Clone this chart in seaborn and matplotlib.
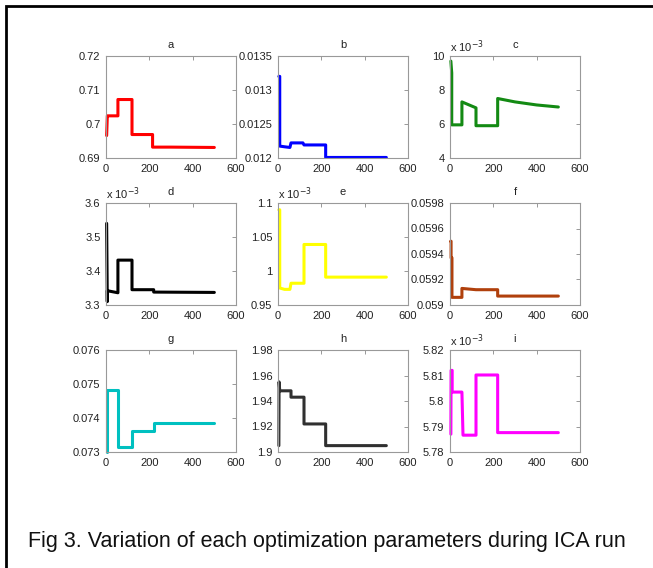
import numpy as np
import pandas as pd
import seaborn as sns
import matplotlib
matplotlib.use("Agg")
import matplotlib.pyplot as plt
from matplotlib.ticker import FuncFormatter
from matplotlib.patches import Rectangle

# step-like traces of each parameter over ICA iterations (vertices)
a_x = [3, 6, 6, 55, 55, 120, 120, 215, 215, 300, 500]
a_y = [0.6966, 0.7022, 0.7024, 0.7024, 0.7072, 0.7072, 0.6969, 0.6969, 0.6932, 0.6932, 0.6931]

b_x = [4, 8, 8, 30, 55, 60, 115, 120, 220, 220, 500]
b_y = [0.01320, 0.01320, 0.012175, 0.012165, 0.012155, 0.012222, 0.012222, 0.012192, 0.012192, 0.012008, 0.012008]

c_x = [4, 8, 8, 55, 55, 120, 120, 220, 220, 300, 400, 500]
c_y = [9.7, 9.0, 5.95, 5.95, 7.3, 6.95, 5.9, 5.9, 7.5, 7.3, 7.12, 7.0]

d_x = [3, 6, 6, 55, 55, 120, 120, 220, 220, 500]
d_y = [3.540, 3.310, 3.342, 3.336, 3.432, 3.432, 3.345, 3.345, 3.338, 3.337]

e_x = [4, 8, 8, 30, 55, 60, 120, 120, 220, 220, 500]
e_y = [1.090, 1.090, 0.975, 0.973, 0.973, 0.982, 0.982, 1.039, 1.039, 0.991, 0.991]

f_x = [3, 5, 5, 9, 9, 55, 55, 120, 220, 220, 500]
f_y = [0.05950, 0.05950, 0.05937, 0.05937, 0.05906, 0.05906, 0.05913, 0.05912, 0.05912, 0.05907, 0.05907]

g_x = [4, 6, 6, 55, 55, 120, 120, 220, 220, 500]
g_y = [0.0730, 0.0730, 0.07483, 0.07483, 0.07315, 0.07315, 0.07362, 0.07362, 0.07385, 0.07385]

h_x = [4, 5, 8, 60, 60, 120, 120, 220, 220, 500]
h_y = [1.905, 1.955, 1.948, 1.948, 1.943, 1.943, 1.922, 1.922, 1.905, 1.905]

i_x = [4, 5, 10, 10, 55, 60, 120, 120, 220, 220, 500]
i_y = [5.787, 5.812, 5.812, 5.8035, 5.8035, 5.7866, 5.7866, 5.8102, 5.8102, 5.7876, 5.7876]

titles = ["a", "b", "c", "d", "e", "f", "g", "h", "i"]
xs = [a_x, b_x, c_x, d_x, e_x, f_x, g_x, h_x, i_x]
ys = [a_y, b_y, c_y, d_y, e_y, f_y, g_y, h_y, i_y]
colors = ["#ff0000", "#0000ff", "#138a13", "#000000", "#ffff00",
          "#b0400c", "#00c0c0", "#303030", "#ff00ff"]
yticks = [
    [0.69, 0.70, 0.71, 0.72],
    [0.012, 0.0125, 0.013, 0.0135],
    [4, 6, 8, 10],
    [3.3, 3.4, 3.5, 3.6],
    [0.95, 1.0, 1.05, 1.1],
    [0.0590, 0.0592, 0.0594, 0.0596, 0.0598],
    [0.073, 0.074, 0.075, 0.076],
    [1.90, 1.92, 1.94, 1.96, 1.98],
    [5.78, 5.79, 5.80, 5.81, 5.82],
]
xticks = [0, 200, 400, 600]
scaled = ["c", "d", "e", "i"]  # panels with "x 10^-3" multiplier

sns.set_style("white")
plt.rcParams["font.family"] = ["Liberation Sans", "DejaVu Sans"]

fig = plt.figure(figsize=(6.53, 5.68), dpi=100)

lefts = [106, 278, 450]
tops = [56, 203, 350]
W, H = 653.0, 568.0
aw, ah = 130, 102

fmt = FuncFormatter(lambda v, p: "%g" % round(v, 6))

for k, name in enumerate(titles):
    r, c = divmod(k, 3)
    ax = fig.add_axes([lefts[c] / W, 1 - (tops[r] + ah) / H, aw / W, ah / H])
    df = pd.DataFrame({"iter": xs[k], "val": ys[k]})
    sns.lineplot(data=df, x="iter", y="val", ax=ax, color=colors[k],
                 linewidth=2.2, estimator=None, sort=False)
    for ln in ax.lines:
        ln.set_clip_on(False)
    ax.set_xlim(0, 600)
    ax.set_ylim(yticks[k][0], yticks[k][-1])
    ax.set_xticks(xticks)
    ax.set_yticks(yticks[k])
    ax.xaxis.set_major_formatter(fmt)
    ax.yaxis.set_major_formatter(fmt)
    ax.set_xlabel("")
    ax.set_ylabel("")
    ax.set_title(name, fontsize=8, pad=6, color="#222222")
    ax.tick_params(direction="in", length=3, width=0.6, colors="#888888",
                   labelcolor="#222222", labelsize=8, top=True, right=True, pad=4)
    for s in ax.spines.values():
        s.set_visible(True)
        s.set_color("#999999")
        s.set_linewidth(0.8)
    if name in scaled:
        ax.text(0.0, 1.01, r"x 10$^{-3}$", transform=ax.transAxes,
                fontsize=8, ha="left", va="bottom", color="#222222")

fig.text(0.5, 1 - 541 / H, "Fig 3. Variation of each optimization parameters during ICA run",
         ha="center", va="center", fontsize=15.5, color="#111111")

# frame around the figure (only left and top edges fall inside the picture)
fig.patches.append(Rectangle((5.5 / W, -0.1), 1.2, 1.1 - 6.5 / H,
                             transform=fig.transFigure, fill=False,
                             edgecolor="black", linewidth=2))

fig.savefig("out.png", dpi=100)
